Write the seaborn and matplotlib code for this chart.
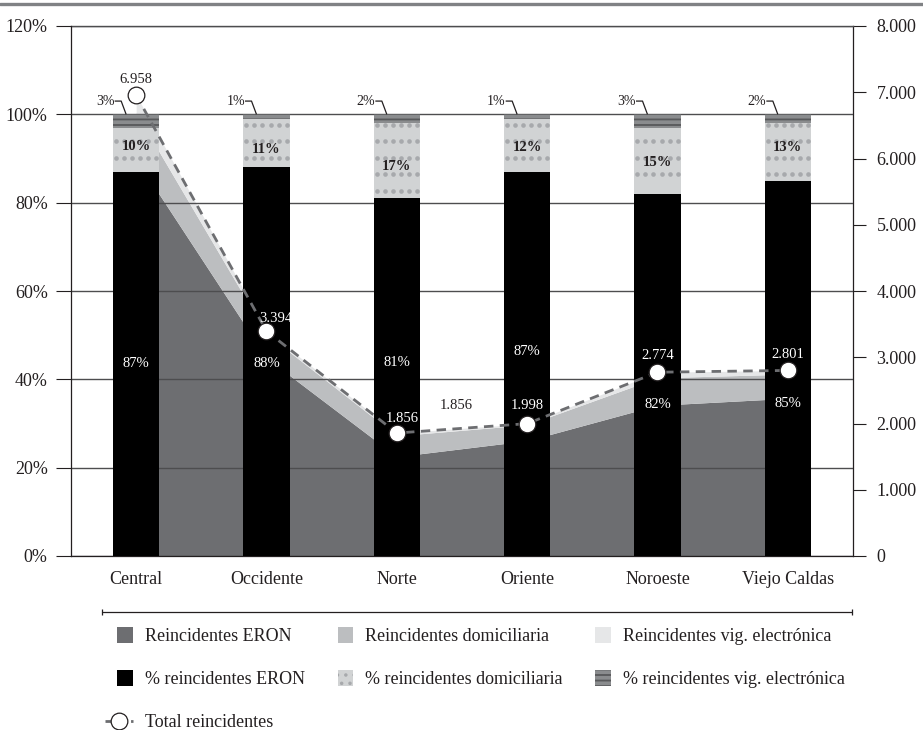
import numpy as np
import pandas as pd
import matplotlib
matplotlib.use("Agg")
import matplotlib.pyplot as plt
import matplotlib.patches as mpatches
from matplotlib.lines import Line2D
from matplotlib.legend_handler import HandlerPatch
from matplotlib.ticker import FuncFormatter
import seaborn as sns

# ---------------- data ----------------
categories = ["Central", "Occidente", "Norte", "Oriente", "Noroeste", "Viejo Caldas"]
total_reincidentes = [6958, 3394, 1856, 1998, 2774, 2801]
reincidentes_eron = [5990, 2990, 1500, 1740, 2275, 2380]
reincidentes_domiciliaria = [700, 360, 315, 240, 415, 365]
reincidentes_vig = [268, 44, 41, 18, 84, 56]
pct_eron = [87, 88, 81, 87, 82, 85]
pct_domiciliaria = [10, 11, 17, 12, 15, 13]
pct_vig = [3, 1, 2, 1, 3, 2]
extra_label_value = 1856
left_ticks = [0, 20, 40, 60, 80, 100, 120]
right_ticks = [0, 1000, 2000, 3000, 4000, 5000, 6000, 7000, 8000]

# ---------------- layout (label placement / texture, not data) ----------------
eron_label_y = [43.5, 43.5, 43.7, 46.2, 34.4, 34.6]
dom_label_y = [92.8, 92.1, 88.3, 92.4, 89.2, 92.6]
count_label_offsets = [(0, 11.5), (7, 9.4), (3.6, 10.8), (0, 13), (0, 12), (0, 11.5)]
count_label_colors = ["#231f20", "white", "white", "white", "white", "white"]
dot_row_start, dot_row_step = 97.6, 3.73
dot_col_offsets = np.linspace(-0.155, 0.155, 6)

# ---------------- style ----------------
sns.set_style("white")
plt.rcParams["font.family"] = ["Liberation Serif", "DejaVu Serif"]
plt.rcParams["hatch.linewidth"] = 1.3
TXT = "#231f20"
C_ERON_A, C_DOM_A, C_VIG_A = "#6d6e71", "#bcbec0", "#e6e7e8"
C_DOM_B, C_DOM_DOT = "#d1d3d4", "#a7a9ac"
C_VIG_B, C_VIG_LINE = "#8a8c8e", "#58595b"
GRID = "#4d4d4f"

fig = plt.figure(figsize=(9.23, 7.30), dpi=100)
ax_area = fig.add_axes([71 / 923, 1 - 556 / 730, (853 - 71) / 923, (556 - 26) / 730])
ax_bar = ax_area.twinx()
ax_line = ax_area.twinx()

pos = np.arange(len(categories))

# stacked areas (right scale)
ax_area.stackplot(pos, reincidentes_eron, reincidentes_domiciliaria, reincidentes_vig,
                  colors=[C_ERON_A, C_DOM_A, C_VIG_A], linewidth=0)
ax_area.set_ylim(0, 8000)
ax_area.set_facecolor("white")

# stacked 100% bars (left scale)
df = pd.DataFrame({"categoria": categories, "eron": pct_eron,
                   "dom": pct_domiciliaria, "vig": pct_vig})
df["eron_dom"] = df["eron"] + df["dom"]
df["total"] = df["eron_dom"] + df["vig"]

bw = 0.354
sns.barplot(data=df, x="categoria", y="total", order=categories, color=C_VIG_B,
            saturation=1, width=bw, hatch="---", edgecolor=C_VIG_LINE, linewidth=0,
            errorbar=None, ax=ax_bar)
sns.barplot(data=df, x="categoria", y="eron_dom", order=categories, color=C_DOM_B,
            saturation=1, width=bw, linewidth=0, errorbar=None, ax=ax_bar)
sns.barplot(data=df, x="categoria", y="eron", order=categories, color="black",
            saturation=1, width=bw, linewidth=0, errorbar=None, ax=ax_bar)

# dotted texture of the "domiciliaria" segment, derived from the segment extents
levels = dot_row_start - dot_row_step * np.arange(30)
dx_list, dy_list = [], []
for i in range(len(categories)):
    lo = pct_eron[i]
    hi = pct_eron[i] + pct_domiciliaria[i]
    rows = levels[(levels > lo + 1.0) & (levels < hi + 0.3)]
    for r in rows:
        dx_list.extend(pos[i] + dot_col_offsets)
        dy_list.extend([r] * len(dot_col_offsets))
ax_bar.scatter(dx_list, dy_list, s=11, color=C_DOM_DOT, linewidths=0, zorder=2)

ax_bar.set_ylim(0, 120)
ax_bar.set_xlabel("")
ax_bar.set_ylabel("")
ax_bar.set_axisbelow(True)
ax_bar.yaxis.grid(True, color=GRID, lw=1.0)
ax_bar.xaxis.grid(False)

# total line (right scale)
sns.lineplot(x=pos, y=total_reincidentes, ax=ax_line, color="#6d6e71", lw=2.0,
             linestyle=(0, (3.4, 2.3)), marker="o", markersize=12,
             markerfacecolor="white", markeredgecolor=TXT, markeredgewidth=0.9)
ax_line.set_ylim(0, 8000)
ax_line.set_yticks([])
ax_line.set_ylabel("")

# bar labels
for i in range(len(categories)):
    ax_bar.text(pos[i], eron_label_y[i], f"{pct_eron[i]}%", color="white",
                ha="center", va="center", fontsize=10.5, zorder=4)
    ax_bar.text(pos[i], dom_label_y[i], f"{pct_domiciliaria[i]}%", color=TXT,
                ha="center", va="center", fontsize=10.5, fontweight="bold", zorder=4)
    ax_bar.text(pos[i] - 0.165, 103.0, f"{pct_vig[i]}%", color=TXT,
                ha="right", va="center", fontsize=10, zorder=4)
    ax_bar.plot([pos[i] - 0.165, pos[i] - 0.115, pos[i] - 0.077],
                [103.0, 103.0, 100.0], color=TXT, lw=0.9, solid_capstyle="butt")

fmt = lambda v: f"{v:,}".replace(",", ".")
for i, v in enumerate(total_reincidentes):
    dx, dy = count_label_offsets[i]
    ax_line.annotate(fmt(v), (pos[i], v), xytext=(dx, dy), textcoords="offset points",
                     ha="center", va="center", fontsize=10.5, color=count_label_colors[i])
ax_line.annotate(fmt(extra_label_value), (pos[2], extra_label_value), xytext=(43, 19.5),
                 textcoords="offset points", ha="center", va="center",
                 fontsize=10.5, color=TXT)

# axes, ticks and spines
for a in (ax_area, ax_bar, ax_line):
    a.set_xlim(-0.5, len(categories) - 0.5)
    for s in a.spines.values():
        s.set_visible(False)

ax_bar.yaxis.tick_left()
ax_bar.set_yticks(left_ticks)
ax_bar.set_yticklabels([f"{t}%" for t in left_ticks])
ax_bar.tick_params(axis="y", direction="out", length=10.8, width=0.8, pad=6.0,
                   labelsize=13, color=TXT, labelcolor=TXT)
ax_bar.spines["left"].set_visible(True)
ax_bar.spines["left"].set_color(TXT)
ax_bar.spines["left"].set_linewidth(0.9)

ax_area.yaxis.tick_right()
ax_area.set_yticks(right_ticks)
ax_area.yaxis.set_major_formatter(FuncFormatter(lambda v, p: fmt(int(v))))
ax_area.tick_params(axis="y", direction="out", length=9, width=0.8, pad=8,
                    labelsize=13, color=TXT, labelcolor=TXT)
ax_area.set_xticks(pos)
ax_area.set_xticklabels(categories)
ax_area.set_xticks(np.arange(-0.5, len(categories), 1.0), minor=True)
ax_area.tick_params(axis="x", which="major", length=0, pad=11, labelsize=13, labelcolor=TXT)
ax_area.tick_params(axis="x", which="minor", direction="out", length=10, width=0.8, color=TXT)
for side in ("right", "bottom"):
    ax_area.spines[side].set_visible(True)
    ax_area.spines[side].set_color(TXT)
    ax_area.spines[side].set_linewidth(0.9)
ax_area.spines["top"].set_visible(True)
ax_area.spines["top"].set_color(GRID)
ax_area.spines["top"].set_linewidth(1.0)

# decorative figure lines
fig.add_artist(Line2D([0, 1], [1 - 4 / 730, 1 - 4 / 730], transform=fig.transFigure,
                      color="#808285", lw=2.4))
fig.add_artist(Line2D([102 / 923, 852 / 923], [1 - 612 / 730, 1 - 612 / 730],
                      transform=fig.transFigure, color=TXT, lw=0.9,
                      marker="|", markersize=5, markeredgewidth=0.9))

# legend
def square_patch(legend, orig_handle, xdescent, ydescent, width, height, fontsize):
    s = 11.5
    return mpatches.Rectangle((-xdescent + width - s, -ydescent + (height - s) / 2), s, s)

hA = mpatches.Patch(facecolor=C_ERON_A, edgecolor=C_ERON_A, lw=0)
hB = mpatches.Patch(facecolor=C_DOM_A, edgecolor=C_DOM_A, lw=0)
hC = mpatches.Patch(facecolor=C_VIG_A, edgecolor=C_VIG_A, lw=0)
hD = mpatches.Patch(facecolor="black", edgecolor="black", lw=0)
hE = mpatches.Patch(facecolor=C_DOM_B, hatch="..", edgecolor=C_DOM_DOT, lw=0)
hF = mpatches.Patch(facecolor=C_VIG_B, hatch="---", edgecolor=C_VIG_LINE, lw=0)
hG = Line2D([], [], color="#6d6e71", lw=2.0, linestyle=(0, (2.0, 2.6)), marker="o",
            markersize=12, markerfacecolor="white", markeredgecolor=TXT, markeredgewidth=0.9)
handles = [hA, hD, hG, hB, hE, hC, hF]
labels = ["Reincidentes ERON", "% reincidentes ERON", "Total reincidentes",
          "Reincidentes domiciliaria", "% reincidentes domiciliaria",
          "Reincidentes vig. electrónica", "% reincidentes vig. electrónica"]
leg = fig.legend(handles, labels, ncol=3, loc="upper left",
                 bbox_to_anchor=(105 / 923, 1 - 628 / 730), frameon=False,
                 fontsize=13, handlelength=1.55, handletextpad=0.65,
                 columnspacing=1.15, labelspacing=1.45, borderpad=0, borderaxespad=0,
                 handler_map={mpatches.Patch: HandlerPatch(patch_func=square_patch)})
for t in leg.get_texts():
    t.set_color(TXT)

fig.savefig("out.png", dpi=100, facecolor="white")
